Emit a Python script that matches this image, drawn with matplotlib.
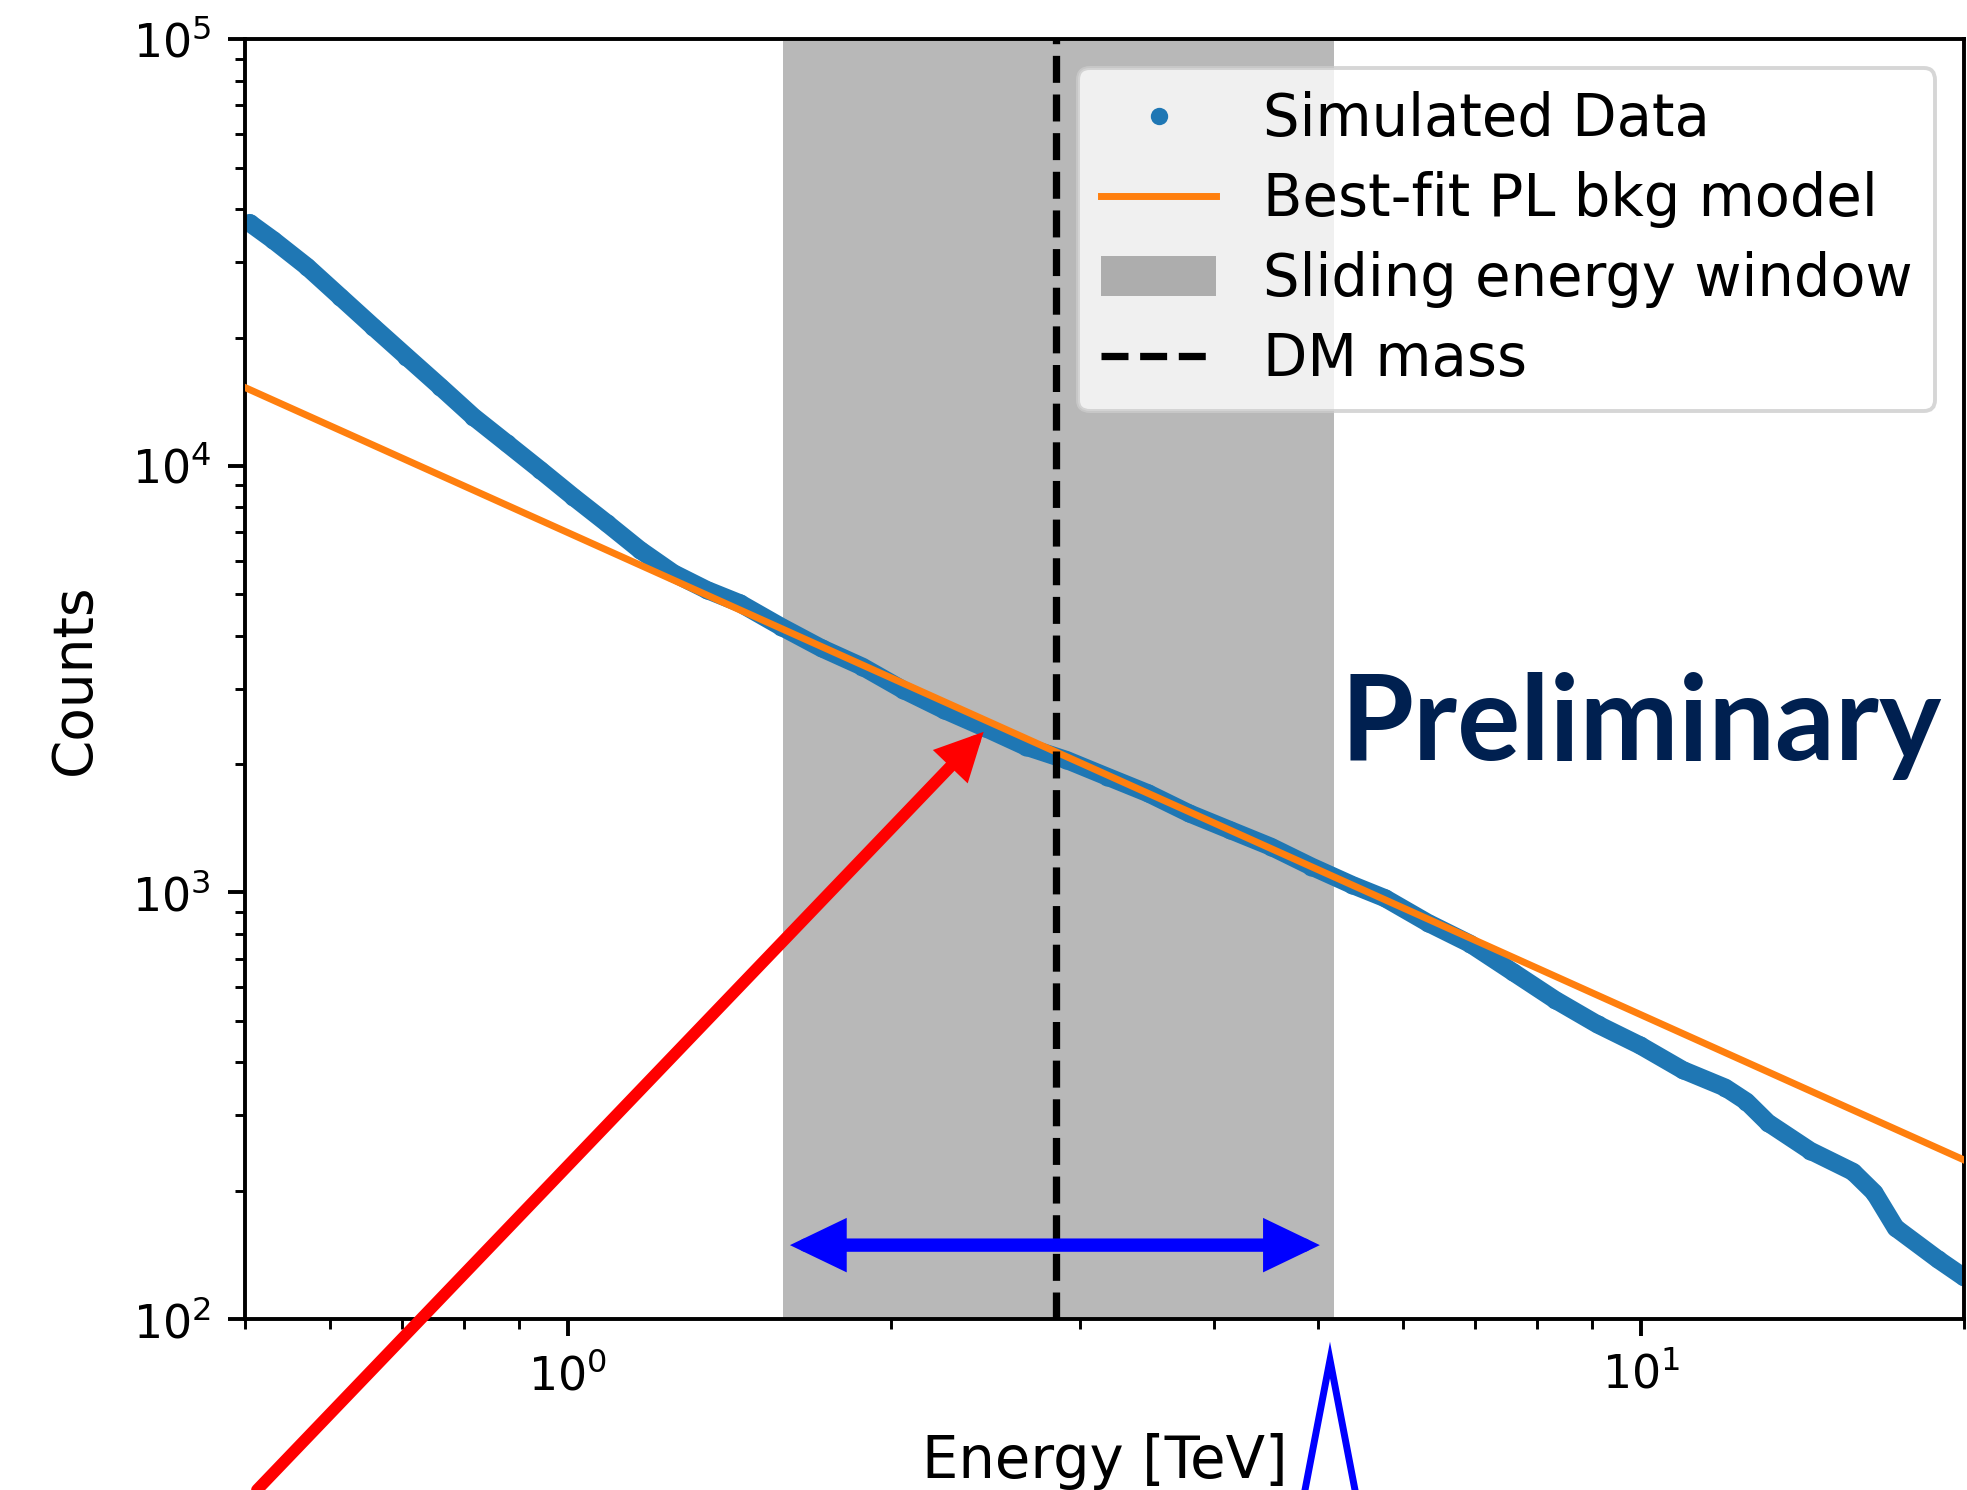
import matplotlib
matplotlib.use('Agg')
import matplotlib.pyplot as plt
from matplotlib.lines import Line2D
from matplotlib.patches import Patch

# ---------------- data ----------------
energy = [0.505, 0.531, 0.571, 0.613, 0.658, 0.707, 0.760, 0.816, 0.877, 0.942,
          1.011, 1.087, 1.167, 1.254, 1.347, 1.446,
          1.579, 1.723, 1.881, 2.053, 2.241, 2.447, 2.670, 2.914, 3.181, 3.473,
          3.792, 4.139, 4.517, 4.930, 5.383,
          5.773, 6.327, 6.929, 7.594, 8.318, 9.112, 9.984, 10.94, 11.98, 12.54,
          13.13, 14.38, 15.76, 16.50, 17.27, 18.92, 19.98]
counts = [37130, 33880, 29340, 24950, 21220, 18050, 15350, 13050, 11300, 9790,
          8470, 7340, 6355, 5603, 5120, 4765,
          4201, 3738, 3383, 2985, 2679, 2431, 2198, 2045, 1868, 1708,
          1533, 1401, 1281, 1150, 1041,
          969.7, 849.2, 758.1, 651.3, 560.1, 490.3, 437.8, 383.4, 348.8, 323.5,
          288.6, 248.0, 221.4, 197.7, 163.6, 137.9, 125.5]

model_energy = [0.5, 20.0]
model_counts = [15270, 236]

window_lo = 1.586
window_hi = 5.17
dm_mass = 2.85

labels = ['Simulated Data', 'Best-fit PL bkg model', 'Sliding energy window', 'DM mass']

# annotation anchors (data units)
span_arrow_x = [1.61, 5.02]
span_arrow_y = 149
red_arrow_tip = (2.44, 2380)

# ---------------- figure ----------------
W, H = 1967, 1490
fig = plt.figure(figsize=(W / 100, H / 100), dpi=100)
ax = fig.add_axes([245 / W, (H - 1319) / H, (1964 - 245) / W, (1319 - 39.4) / H])

blue = '#1f77b4'
orange = '#ff7f0e'

ax.axvspan(window_lo, window_hi, color='k', alpha=0.28, lw=0, zorder=1)
ax.plot(energy, counts, '-', color=blue, lw=13, solid_joinstyle='round',
        solid_capstyle='round', zorder=2)
ax.plot(energy, counts, 'o', color=blue, ms=13, mew=0, zorder=2)
ax.plot(model_energy, model_counts, color=orange, lw=5, zorder=3)
ax.axvline(dm_mass, color='k', ls='--', lw=5.25, zorder=4)

ax.set_xscale('log')
ax.set_yscale('log')
ax.set_xlim(0.5, 20)
ax.set_ylim(1e2, 1e5)

for sp in ax.spines.values():
    sp.set_linewidth(2.8)
ax.tick_params(which='major', length=12.25, width=2.8, labelsize=33, pad=12.25)
ax.tick_params(which='minor', length=7, width=2.1)

ax.set_xlabel('Energy [TeV]', fontsize=41.5)
ax.set_ylabel('Counts', fontsize=39.5)
ax.yaxis.set_label_coords(-0.0832, 0.5)
ax.xaxis.set_label_coords(0.5, -0.0890)

handles = [
    Line2D([], [], ls='none', marker='o', color=blue, ms=12.5, mew=0),
    Line2D([], [], color=orange, lw=5),
    Patch(facecolor='k', alpha=0.28, lw=0),
    Line2D([], [], color='k', ls='--', lw=5.25),
]
leg = ax.legend(handles, labels, loc='upper right', fontsize=41.5,
                labelspacing=0.4, framealpha=0.8, edgecolor='0.8')
leg.get_frame().set_linewidth(2.8)
leg.set_zorder(6)

# blue double arrow across the sliding window
ax.annotate('', xy=(span_arrow_x[1], span_arrow_y), xytext=(span_arrow_x[0], span_arrow_y),
            arrowprops=dict(arrowstyle='<|-|>,head_length=25,head_width=12',
                            mutation_scale=1, color='#0000ff', lw=9.6,
                            shrinkA=0, shrinkB=0, joinstyle='miter'),
            zorder=5)

# red arrow from the lower left to the data
ax.annotate('', xy=red_arrow_tip, xycoords='data',
            xytext=(257 / W, 0.0), textcoords='figure fraction',
            arrowprops=dict(arrowstyle='-|>,head_length=21,head_width=10.5',
                            mutation_scale=1, color='#ff0000', lw=8.5,
                            shrinkA=0, shrinkB=0, joinstyle='miter'),
            annotation_clip=False, zorder=7)

# blue caret below the axis
fig.add_artist(Line2D([1305 / W, 1330 / W, 1355 / W], [0, 130 / H, 0],
                      transform=fig.transFigure, color='#0000ff', lw=5,
                      solid_joinstyle='miter'))

fig.text(1340 / W, (H - 760) / H, 'Preliminary', family='Lato', weight='bold',
         fontsize=85, color='#002050', ha='left', va='baseline')

fig.savefig('out.png', dpi=100)
